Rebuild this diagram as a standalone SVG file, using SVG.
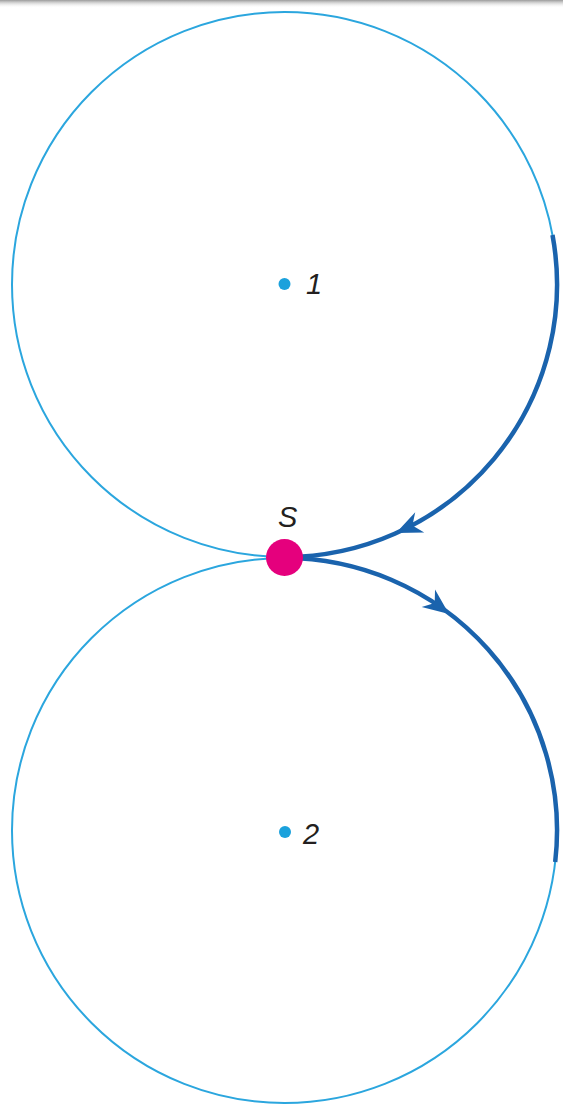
<svg xmlns="http://www.w3.org/2000/svg" xmlns:xlink="http://www.w3.org/1999/xlink" width="563" height="1111" viewBox="0 0 563 1111">
<style>
.orbit{fill:none;stroke:#2ba6de;stroke-width:2}
.path{fill:none;stroke:#1a63ad;stroke-width:4.5;stroke-linecap:butt}
.arrow{fill:#1a63ad}
.center{fill:#1ba1dc}
.lbl{font-family:"Liberation Sans",Arial,sans-serif;font-size:29px;font-style:italic;fill:#231f20}
</style>
<defs>
<linearGradient id="topshade" x1="0" y1="0" x2="0" y2="1">
<stop offset="0" stop-color="#9a9a9a"/>
<stop offset="1" stop-color="#ffffff" stop-opacity="0"/>
</linearGradient>
<path id="ah" d="M0,0 L-26,-11 L-18,0 L-26,11 Z"/>
</defs>
<rect x="0" y="0" width="563" height="1111" fill="#ffffff"/>
<rect x="0" y="0" width="563" height="8" fill="url(#topshade)"/>
<g id="circle1">
<circle class="orbit" cx="284.5" cy="284.5" r="272.5"/>
<circle class="center" cx="284.5" cy="284" r="6"/>
<text class="lbl" x="306" y="294">1</text>
</g>
<g id="circle2">
<circle class="orbit" cx="284.5" cy="830.5" r="272.5"/>
<circle class="center" cx="285" cy="832" r="6"/>
<text class="lbl" x="303" y="844">2</text>
</g>
<g id="connectors">
<path class="path" d="M552.5 235 A272.5 272.5 0 0 1 284.5 557"/>
<use xlink:href="#ah" href="#ah" class="arrow" transform="translate(396,533) rotate(155.8)"/>
<path class="path" d="M284.5 558 A272.5 272.5 0 0 1 555.2 862"/>
<use xlink:href="#ah" href="#ah" class="arrow" transform="translate(449,614) rotate(37.4)"/>
</g>
<g id="S">
<circle cx="284.5" cy="557.5" r="18.5" fill="#e5007d"/>
<text class="lbl" x="278" y="527">S</text>
</g>
</svg>
